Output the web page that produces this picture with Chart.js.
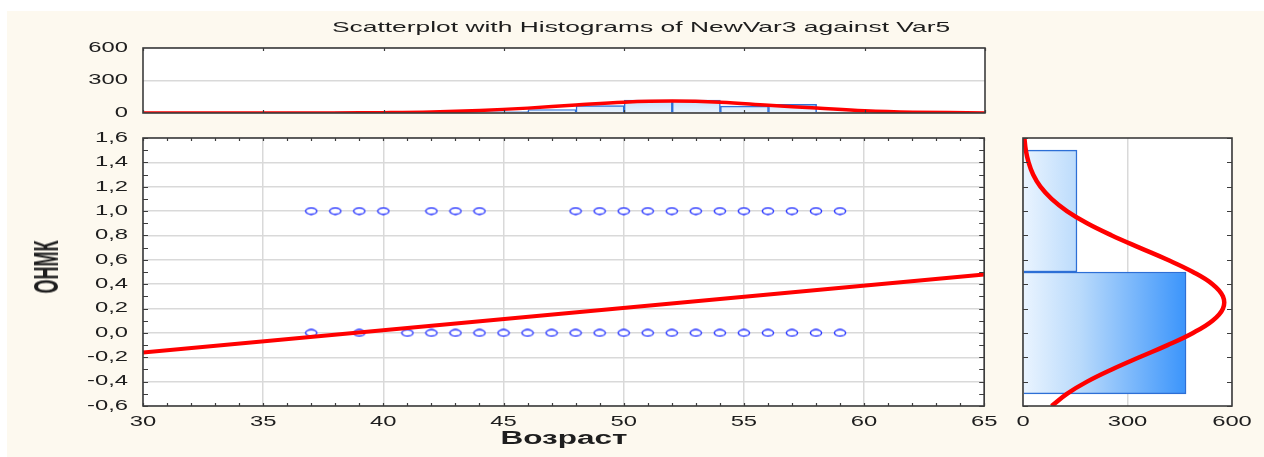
<!DOCTYPE html>
<html>
<head>
<meta charset="utf-8">
<script src="https://cdn.jsdelivr.net/npm/chart.js@4.4.1/dist/chart.umd.min.js"></script>
<style>
  html, body { margin: 0; padding: 0; background: #ffffff; }
  #page { position: relative; width: 1264px; height: 457px; overflow: hidden; }
  #bg { position: absolute; left: 7px; top: 11px; right: 0; bottom: 0; background: #fdf9ef; }
  .box { position: absolute; }
  .label { position: absolute; white-space: nowrap; color: #1e1e1e; font-family: "Liberation Sans", Arial, sans-serif; }
  #title { left: 641px; top: 19px; font-size: 15px; line-height: 16px; transform: translateX(-50%) scaleX(1.76); }
  #xTitle { left: 564px; top: 438px; font-size: 18px; font-weight: bold; line-height: 20px; transform: translate(-50%, -50%) scaleX(1.75); }
  #yTitle { left: 47px; top: 267px; font-size: 18px; font-weight: bold; line-height: 20px; transform: translate(-50%, -50%) rotate(-90deg) scaleY(1.9); }
</style>
</head>
<body>
<div id="page">
  <div id="bg"></div>
  <div class="box" style="left:0;top:10px;width:1000px;height:115px;"><canvas id="topHist" width="1000" height="115"></canvas></div>
  <div class="box" style="left:0;top:125px;width:1000px;height:332px;"><canvas id="scatter" width="1000" height="332"></canvas></div>
  <div class="box" style="left:1000px;top:125px;width:264px;height:332px;"><canvas id="sideHist" width="264" height="332"></canvas></div>
  <div class="label" id="title">Scatterplot with Histograms of NewVar3 against Var5</div>
  <div class="label" id="xTitle">Возраст</div>
  <div class="label" id="yTitle">ОНМК</div>
</div>
<script>
// age (Var5) observations by ОНМК group
const onmk0Ages = [37, 39, 41, 42, 43, 44, 45, 46, 47, 48, 49, 50, 51, 52, 53, 54, 55, 56, 57, 58, 59];
const onmk1Ages = [37, 38, 39, 40, 42, 43, 44, 48, 49, 50, 51, 52, 53, 54, 55, 56, 57, 58, 59];

// linear fit
const fitAges = [30, 65];
const fitValues = [-0.16, 0.48];

// age histogram (bin centres, width 2)
const ageBins = [37, 39, 41, 43, 45, 47, 49, 51, 53, 55, 57, 59];
const ageCounts = [8, 10, 6, 8, 13, 31, 69, 119, 119, 63, 79, 9];

// normal curve over the age histogram
const ageCurveX = [30, 34, 38, 40, 42, 44, 46, 48, 50, 52, 54, 56, 58, 60, 62, 65];
const ageCurveY = [0, 0, 1, 3, 9, 23, 45, 74, 100, 110, 100, 72, 46, 21, 8, 1];

// ОНМК histogram (bin centres, width 1)
const onmkBins = [0, 1];
const onmkCounts = [468, 155];

// normal curve over the ОНМК histogram
const onmkCurveY = [-0.6, -0.5, -0.4, -0.3, -0.2, -0.1, 0.0, 0.1, 0.2, 0.3, 0.4, 0.5, 0.6, 0.7, 0.8, 0.9, 1.0, 1.1, 1.2, 1.3, 1.4, 1.5, 1.6];
const onmkCurveX = [82, 126, 184, 255, 334, 415, 488, 544, 574, 574, 544, 488, 415, 334, 255, 184, 126, 82, 50, 29, 16, 8, 4];

// tick labels
const ageTicks = [30, 35, 40, 45, 50, 55, 60, 65];
const onmkTicks = [-0.6, -0.4, -0.2, 0.0, 0.2, 0.4, 0.6, 0.8, 1.0, 1.2, 1.4, 1.6];
const countTicks = [0, 300, 600];

const tickFont = { family: "Liberation Sans", size: 14 };
const tickColor = '#1e1e1e';
const gridColor = '#d9d9d9';
const red = '#ff0000';

const comma = v => Number(v).toFixed(1).replace('.', ',');
const setTicks = list => scale => { scale.ticks = list.map(v => ({ value: v })); };
// fixed axis band, no extra room reserved for the end labels
const fixWidth = w => s => { s.width = w; s.paddingTop = 0; s.paddingBottom = 0; };
const fixHeight = h => s => { s.height = h; };

// wide tick lettering: stretch every label horizontally around its anchor
const wideText = {
  id: 'wideText',
  beforeInit(chart) {
    const ctx = chart.ctx;
    const fill = ctx.fillText.bind(ctx);
    ctx.fillText = (text, x, y) => {
      ctx.save();
      ctx.translate(x, y);
      ctx.scale(1.7, 1);
      fill(text, 0, 0);
      ctx.restore();
    };
  }
};

// white plot area, frame and small inward tick marks
const framePlugin = {
  id: 'frame',
  beforeDraw(chart) {
    const { ctx, chartArea: a } = chart;
    ctx.save();
    ctx.fillStyle = '#ffffff';
    ctx.fillRect(a.left, a.top, a.right - a.left, a.bottom - a.top);
    ctx.restore();
  },
  afterDraw(chart, args, opts) {
    const { ctx, chartArea: a, scales } = chart;
    ctx.save();
    ctx.strokeStyle = '#3c3c3c';
    ctx.lineWidth = 1.2;
    ctx.beginPath();
    if (opts.xStep) {
      const s = scales.x;
      for (let v = s.min; v <= s.max + 1e-9; v += opts.xStep) {
        const p = Math.round(s.getPixelForValue(v)) + 0.5;
        ctx.moveTo(p, a.bottom); ctx.lineTo(p, a.bottom - 3);
        ctx.moveTo(p, a.top); ctx.lineTo(p, a.top + 3);
      }
    }
    if (opts.yStep) {
      const s = scales.y;
      for (let v = s.min; v <= s.max + 1e-9; v += opts.yStep) {
        const p = Math.round(s.getPixelForValue(v)) + 0.5;
        ctx.moveTo(a.left, p); ctx.lineTo(a.left + 5, p);
        ctx.moveTo(a.right, p); ctx.lineTo(a.right - 5, p);
      }
    }
    ctx.stroke();
    ctx.lineWidth = 1.6;
    ctx.strokeRect(a.left, a.top, a.right - a.left, a.bottom - a.top);
    ctx.restore();
  }
};
Chart.register(wideText, framePlugin);

// light-to-blue fill of the histogram bars
function barFill(c, horizontal) {
  const chart = c.chart;
  if (!chart.chartArea) return '#cfe4fb';
  const s = horizontal ? chart.scales.x : chart.scales.y;
  const p0 = s.getPixelForValue(0), p1 = s.getPixelForValue(470);
  const g = horizontal
    ? chart.ctx.createLinearGradient(p0, 0, p1, 0)
    : chart.ctx.createLinearGradient(0, p0, 0, p1);
  g.addColorStop(0, '#eaf4ff');
  g.addColorStop(0.35, '#b9dafb');
  g.addColorStop(1, '#3a94fb');
  return g;
}

// hollow ellipse marker with a white inside
const ring = document.createElement('canvas');
ring.width = 14; ring.height = 9;
const rc = ring.getContext('2d');
rc.fillStyle = '#ffffff';
rc.strokeStyle = '#2634ff';
rc.lineWidth = 1.4;
rc.beginPath();
rc.ellipse(7, 4.5, 5.6, 3.2, 0, 0, Math.PI * 2);
rc.fill();
rc.stroke();

Chart.defaults.animation = false;
Chart.defaults.responsive = false;
Chart.defaults.plugins.legend.display = false;
Chart.defaults.plugins.tooltip.enabled = false;

// histogram of age above the scatter
new Chart(document.getElementById('topHist'), {
  type: 'bar',
  data: {
    datasets: [
      {
        type: 'line',
        data: ageCurveX.map((x, i) => ({ x: x, y: ageCurveY[i] })),
        borderColor: red,
        borderWidth: 3.5,
        pointRadius: 0,
        tension: 0.4
      },
      {
        data: ageBins.map((x, i) => ({ x: x, y: ageCounts[i] })),
        backgroundColor: c => barFill(c, false),
        borderColor: '#2d6fd6',
        borderWidth: 1.5,
        barPercentage: 1,
        categoryPercentage: 1
      }
    ]
  },
  options: {
    layout: { padding: { top: 38, right: 15, left: 0, bottom: 0 } },
    plugins: { frame: { xStep: 5 } },
    scales: {
      x: {
        type: 'linear', min: 30, max: 65, offset: false,
        afterBuildTicks: setTicks(ageTicks),
        ticks: { display: false },
        grid: { display: false, offset: false },
        border: { display: false },
        afterFit: fixHeight(12)
      },
      y: {
        min: 0, max: 600,
        afterBuildTicks: setTicks(countTicks),
        ticks: { font: tickFont, color: tickColor, padding: 15 },
        grid: { color: gridColor, lineWidth: 1.5, drawTicks: false },
        border: { display: false },
        afterFit: fixWidth(143)
      }
    }
  }
});

// ОНМК against age with the linear fit
new Chart(document.getElementById('scatter'), {
  type: 'scatter',
  data: {
    datasets: [
      {
        type: 'line',
        data: fitAges.map((x, i) => ({ x: x, y: fitValues[i] })),
        borderColor: red,
        borderWidth: 4,
        pointRadius: 0
      },
      {
        data: onmk0Ages.map(x => ({ x: x, y: 0 })),
        pointStyle: ring,
        pointRadius: 5
      },
      {
        data: onmk1Ages.map(x => ({ x: x, y: 1 })),
        pointStyle: ring,
        pointRadius: 5
      }
    ]
  },
  options: {
    layout: { padding: { top: 13, right: 15, left: 0, bottom: 0 } },
    plugins: { frame: { xStep: 1, yStep: 0.1 } },
    scales: {
      x: {
        type: 'linear', min: 30, max: 65,
        afterBuildTicks: setTicks(ageTicks),
        ticks: { font: tickFont, color: tickColor, padding: 8 },
        grid: { color: gridColor, lineWidth: 1.5, drawTicks: false },
        border: { display: false },
        afterFit: fixHeight(51)
      },
      y: {
        min: -0.6, max: 1.6,
        afterBuildTicks: setTicks(onmkTicks),
        ticks: { font: tickFont, color: tickColor, padding: 15, callback: v => comma(v) },
        grid: { color: gridColor, lineWidth: 1.5, drawTicks: false },
        border: { display: false },
        afterFit: fixWidth(143)
      }
    }
  }
});

// histogram of ОНМК to the right
new Chart(document.getElementById('sideHist'), {
  type: 'bar',
  data: {
    datasets: [
      {
        type: 'line',
        indexAxis: 'y',
        data: onmkCurveY.map((y, i) => ({ x: onmkCurveX[i], y: y })),
        borderColor: red,
        borderWidth: 4.5,
        pointRadius: 0,
        tension: 0.4
      },
      {
        data: onmkBins.map((y, i) => ({ x: onmkCounts[i], y: y })),
        backgroundColor: c => barFill(c, true),
        borderColor: '#2d6fd6',
        borderWidth: 1.5,
        barPercentage: 1,
        categoryPercentage: 1
      }
    ]
  },
  options: {
    indexAxis: 'y',
    layout: { padding: { top: 13, right: 32, left: 0, bottom: 0 } },
    plugins: { frame: { yStep: 0.2 } },
    scales: {
      x: {
        type: 'linear', min: 0, max: 600,
        afterBuildTicks: setTicks(countTicks),
        ticks: { font: tickFont, color: tickColor, padding: 8 },
        grid: { color: gridColor, lineWidth: 1.5, drawTicks: false },
        border: { display: false },
        afterFit: fixHeight(51)
      },
      y: {
        type: 'linear', min: -0.6, max: 1.6, offset: false,
        afterBuildTicks: setTicks([-0.6, 1.6]),
        ticks: { display: false },
        grid: { display: false, offset: false },
        border: { display: false },
        afterFit: fixWidth(23)
      }
    }
  }
});
</script>
</body>
</html>
